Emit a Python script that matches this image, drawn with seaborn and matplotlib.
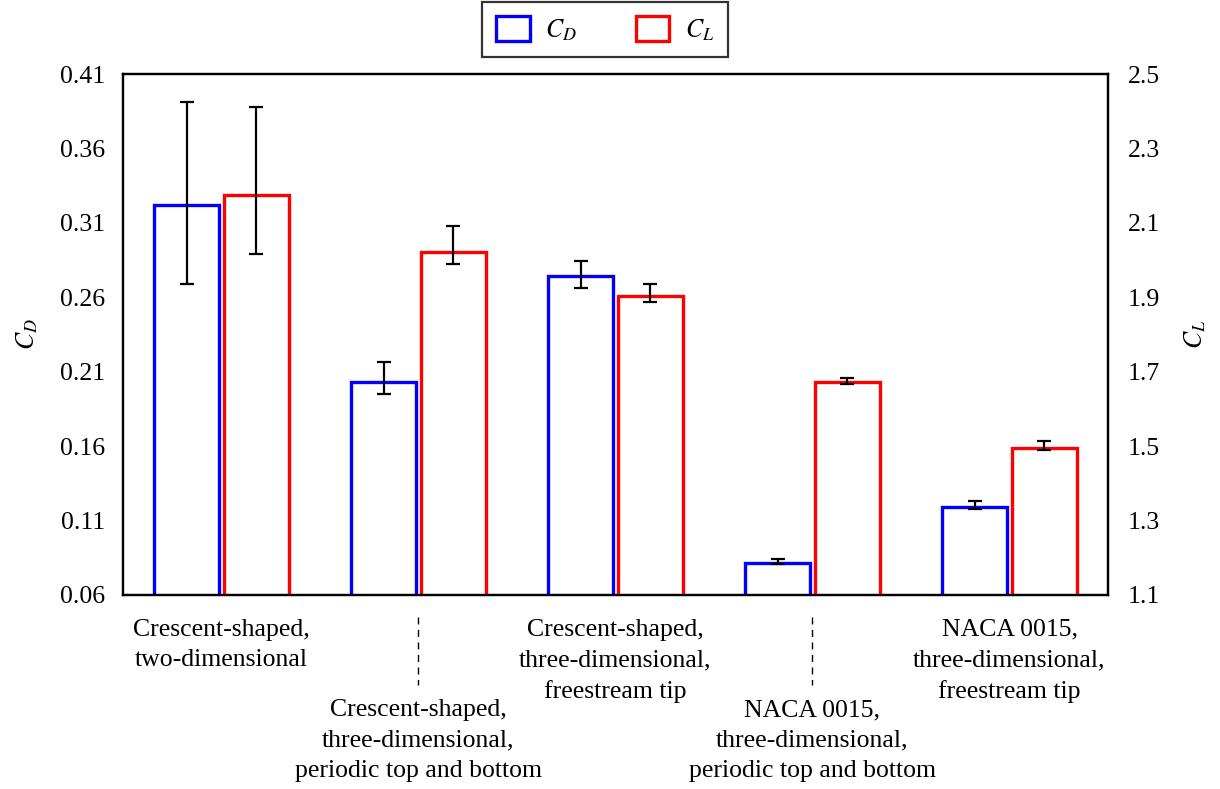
import numpy as np
import pandas as pd
import matplotlib
matplotlib.use("Agg")
import matplotlib.pyplot as plt
from matplotlib.patches import Patch
import seaborn as sns

# ---------------- data ----------------
categories = [
    "Crescent-shaped,\ntwo-dimensional",
    "Crescent-shaped,\nthree-dimensional,\nperiodic top and bottom",
    "Crescent-shaped,\nthree-dimensional,\nfreestream tip",
    "NACA 0015,\nthree-dimensional,\nperiodic top and bottom",
    "NACA 0015,\nthree-dimensional,\nfreestream tip",
]
cd_values = [0.322, 0.2033, 0.2745, 0.0817, 0.1189]
cd_err_minus = [0.053, 0.0085, 0.0083, 0.0009, 0.0009]
cd_err_plus = [0.069, 0.013, 0.0101, 0.0025, 0.0042]

cl_values = [2.175, 2.021, 1.904, 1.672, 1.494]
cl_err_minus = [0.159, 0.031, 0.016, 0.0046, 0.0046]
cl_err_plus = [0.236, 0.0715, 0.031, 0.0116, 0.0204]

series = ["CD", "CL"]
cd_ticks = [0.06, 0.11, 0.16, 0.21, 0.26, 0.31, 0.36, 0.41]
cl_ticks = [1.1, 1.3, 1.5, 1.7, 1.9, 2.1, 2.3, 2.5]

# ---------------- style ----------------
sns.set_style("white")
plt.rcParams["font.family"] = ["Liberation Serif", "DejaVu Serif"]
plt.rcParams["mathtext.fontset"] = "stix"
for k in ("text.color", "axes.labelcolor", "xtick.color", "ytick.color"):
    plt.rcParams[k] = "black"
FS = 18.5
colors = {"CD": "#0000FF", "CL": "#FF0000"}

fig = plt.figure(figsize=(12.2, 7.89), dpi=100)
ax = fig.add_axes([0.1008, 0.2459, 0.8074, 0.6603])
ax2 = ax.twinx()

df_cd = pd.DataFrame({"config": categories, "series": "CD", "value": cd_values})
df_cl = pd.DataFrame({"config": categories, "series": "CL", "value": cl_values})

common = dict(x="config", y="value", hue="series", hue_order=series, order=categories,
              palette=colors, fill=False, linewidth=2.4, width=0.71, gap=0.07,
              dodge=True, errorbar=None, legend=False)
sns.barplot(data=df_cd, ax=ax, **common)
sns.barplot(data=df_cl, ax=ax2, **common)

def centers(a):
    return [p.get_x() + p.get_width() / 2 for p in a.patches if p.get_width() > 0]

eb = dict(fmt="none", ecolor="black", elinewidth=1.6, capsize=5, capthick=1.6, zorder=5)
ax.errorbar(centers(ax), cd_values, yerr=[cd_err_minus, cd_err_plus], **eb)
ax2.errorbar(centers(ax2), cl_values, yerr=[cl_err_minus, cl_err_plus], **eb)

for p in ax.patches:
    p.set_edgecolor(colors["CD"])
for p in ax2.patches:
    p.set_edgecolor(colors["CL"])

# axes limits and ticks
ax.set_xlim(-0.5, len(categories) - 0.5)
ax.set_ylim(cd_ticks[0], cd_ticks[-1])
ax2.set_ylim(cl_ticks[0], cl_ticks[-1])
ax.set_yticks(cd_ticks)
ax.set_yticklabels([f"{t:.2f}" for t in cd_ticks], fontsize=FS)
ax2.set_yticks(cl_ticks)
ax2.set_yticklabels([f"{t:.1f}" for t in cl_ticks], fontsize=FS)
ax.set_xticks(range(len(categories)))
ax.set_xticklabels(categories, fontsize=FS, linespacing=1.5)
ax.tick_params(axis="both", length=0, colors="black")
ax2.tick_params(axis="both", length=0, colors="black")
ax.tick_params(axis="y", pad=13)
ax2.tick_params(axis="y", pad=14)
ax.set_xlabel("")
ax2.set_xlabel("")

ticks = ax.xaxis.get_major_ticks()
for i, t in enumerate(ticks):
    t.set_pad(75 if i % 2 == 1 else 17)

# dashed leader lines for lowered labels
trans = matplotlib.transforms.blended_transform_factory(ax.transData, ax.transAxes)
for i in range(len(categories)):
    if i % 2 == 1:
        ax.plot([i, i], [-0.042, -0.173], transform=trans, color="black",
                lw=1.0, ls=(0, (5, 4)), clip_on=False)

ax.set_ylabel("$C_D$", fontsize=FS, labelpad=14, color="black")
ax2.set_ylabel("$C_L$", fontsize=FS, labelpad=16, color="black")

for a in (ax, ax2):
    for s in a.spines.values():
        s.set_color("black")
        s.set_linewidth(1.6)

handles = [Patch(facecolor="white", edgecolor=colors[s], linewidth=2.4) for s in series]
leg = fig.legend(handles, ["$C_D$", "$C_L$"], loc="upper center",
                 bbox_to_anchor=(0.496, 0.997), ncol=2, fontsize=FS,
                 frameon=True, fancybox=False, edgecolor="black",
                 handlelength=1.3, handleheight=1.1, handletextpad=0.6,
                 columnspacing=2.3, borderpad=0.55, borderaxespad=0)
leg.get_frame().set_linewidth(1.6)
for txt in leg.get_texts():
    txt.set_color("black")

fig.savefig("out.png", dpi=100)
